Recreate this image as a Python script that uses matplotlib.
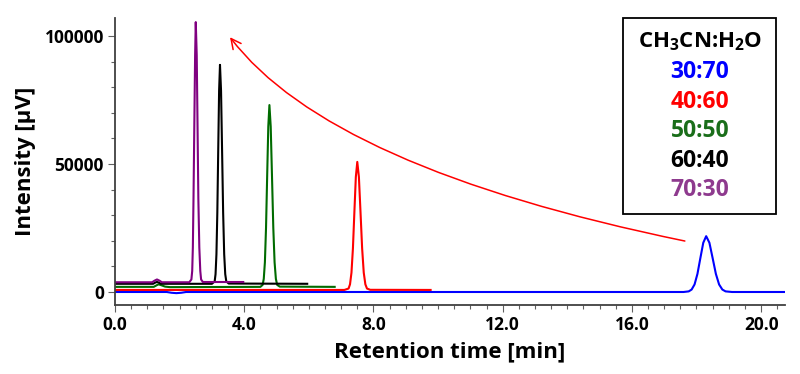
import matplotlib
matplotlib.use("Agg")
import matplotlib.pyplot as plt
from matplotlib.ticker import MultipleLocator, FormatStrFormatter
from matplotlib.patches import Rectangle, FancyArrowPatch
from matplotlib.path import Path

plt.rcParams['font.family'] = ['Open Sans', 'DejaVu Sans']
plt.rcParams['font.weight'] = 'bold'
plt.rcParams['mathtext.fontset'] = 'custom'
plt.rcParams['mathtext.bf'] = 'Open Sans:bold'
plt.rcParams['mathtext.rm'] = 'Open Sans:bold'

# ---- data ----
labels = ["30:70", "40:60", "50:50", "60:40", "70:30"]
line_colors = ["#0000ff", "#ff0000", "#006b00", "#000000", "#800080"]
text_colors = ["#0000ff", "#ff0000", "#1a6e1a", "#000000", "#8e3a8e"]

t_3070 = [0, 1.6, 1.75, 1.9, 2.05, 2.2, 17.6, 17.76, 17.85, 17.94, 18.03, 18.12, 18.21, 18.30,
          18.40, 18.50, 18.60, 18.70, 18.80, 18.90, 19.1, 20.74]
y_3070 = [0, 0, -300, -450, -300, 0, 0, 240, 960, 2940, 7080, 13230, 19230, 21800,
          19230, 13230, 7080, 2940, 960, 240, 0, 0]

t_4060 = [0, 7.1, 7.23, 7.275, 7.32, 7.365, 7.41, 7.455, 7.50,
          7.55, 7.60, 7.65, 7.70, 7.75, 7.80, 7.90, 9.77]
y_4060 = [800, 800, 1350, 3000, 7550, 17050, 31150, 44900, 50800,
          44900, 31150, 17050, 7550, 3000, 1350, 850, 800]

t_5050 = [0, 1.2, 1.3, 1.35, 1.42, 1.55, 1.7, 4.5, 4.57, 4.605, 4.64, 4.675, 4.71, 4.745, 4.78,
          4.82, 4.86, 4.90, 4.94, 4.98, 5.02, 5.10, 6.8]
y_5050 = [2000, 2000, 2700, 3000, 2700, 2100, 1900, 2000, 2780, 5120, 11590, 25080, 45100, 64600, 73000,
          64600, 45100, 25080, 11590, 5120, 2780, 2100, 2000]

t_6040 = [0, 1.18, 1.25, 1.3, 1.35, 1.42, 3.0, 3.085, 3.1125, 3.14, 3.1675, 3.195, 3.2225, 3.25,
          3.2825, 3.315, 3.3475, 3.38, 3.4125, 3.445, 3.52, 5.95]
y_6040 = [3200, 3200, 3700, 3900, 3700, 3200, 3200, 4140, 6960, 14740, 31000, 55100, 78600, 88700,
          78600, 55100, 31000, 14740, 6960, 4140, 3300, 3200]

t_7030 = [0, 1.15, 1.22, 1.3, 1.38, 1.45, 2.30, 2.365, 2.39, 2.41, 2.43, 2.455, 2.48, 2.50,
          2.53, 2.555, 2.58, 2.61, 2.64, 2.665, 2.72, 3.97]
y_7030 = [3800, 3800, 4400, 4900, 4400, 3800, 3800, 4900, 8200, 17400, 36500, 64800, 92500, 105400,
          92500, 64800, 36500, 17400, 8200, 4900, 3900, 3900]

arrow_tail = (17.64, 19900)
arrow_ctrl = (6.64, 48400)
arrow_head = (3.56, 99500)

series_t = [t_3070, t_4060, t_5050, t_6040, t_7030]
series_y = [y_3070, y_4060, y_5050, y_6040, y_7030]

# ---- figure ----
fig = plt.figure(figsize=(8, 3.74), dpi=100)
ax = fig.add_axes([115/800, 1-305/374, (785-115)/800, (305-18)/374])

for t, y, c in zip(series_t, series_y, line_colors):
    ax.plot(t, y, color=c, lw=1.5, solid_joinstyle='round')

ax.set_xlim(0, 20.74)
ax.set_ylim(-5080, 107000)

ax.xaxis.set_major_locator(MultipleLocator(4))
ax.xaxis.set_minor_locator(MultipleLocator(0.5))
ax.xaxis.set_major_formatter(FormatStrFormatter('%.1f'))
ax.yaxis.set_major_locator(MultipleLocator(50000))
ax.yaxis.set_minor_locator(MultipleLocator(10000))

for s in ['top', 'right']:
    ax.spines[s].set_visible(False)
for s in ['left', 'bottom']:
    ax.spines[s].set_color('#404040')
    ax.spines[s].set_linewidth(1.3)
ax.tick_params(which='both', direction='out', color='#606060', width=0.8)
ax.tick_params(which='major', length=5, labelsize=12.5, pad=3)
ax.tick_params(which='minor', length=3)
for lab in ax.get_xticklabels() + ax.get_yticklabels():
    lab.set_fontweight('bold')

ax.set_xlabel('Retention time [min]', fontsize=16, fontweight='bold', labelpad=5)
ax.set_ylabel('Intensity [µV]', fontsize=16, fontweight='bold', labelpad=6)

arrow_path = Path([arrow_tail, arrow_ctrl, arrow_head],
                  [Path.MOVETO, Path.CURVE3, Path.CURVE3])
arr = FancyArrowPatch(path=arrow_path, arrowstyle='->', color='red', lw=1.1,
                      mutation_scale=18)
ax.add_patch(arr)

# legend box
fig.patches.append(Rectangle((623/800, 1-214/374), 153/800, 196/374,
                             transform=fig.transFigure, fill=False,
                             edgecolor='black', lw=1.3))
fig.text(700/800, 1-42/374, r'CH$_\mathbf{3}$CN:H$_\mathbf{2}$O',
         ha='center', va='center', fontsize=16, fontweight='bold', color='black')
for i, (lab, c) in enumerate(zip(labels, text_colors)):
    fig.text(700/800, 1-(72 + 29.5*i)/374, lab, ha='center', va='center',
             fontsize=16.5, fontweight='bold', color=c)

fig.savefig('out.png', dpi=100)
